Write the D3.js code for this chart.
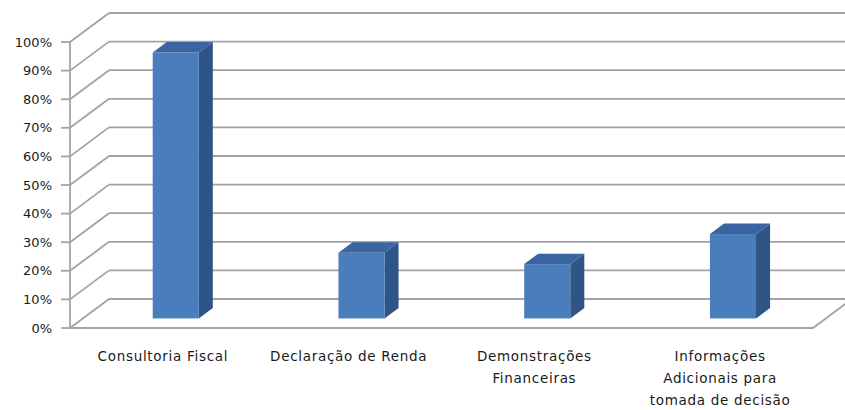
<!DOCTYPE html>
<html>
<head>
  <meta charset="utf-8">
  <script src="https://d3js.org/d3.v7.min.js"></script>
  <style>
    body { margin: 0; background: #fff; font-family: 'DejaVu Sans', sans-serif; }
  </style>
</head>
<body>
  <div id="my_dataviz"></div>
  <script>
    // data
    var categories = [
      ["Consultoria Fiscal"],
      ["Declaração de Renda"],
      ["Demonstrações", "Financeiras"],
      ["Informações", "Adicionais para", "tomada de decisão"]
    ];
    var values = [0.93, 0.23, 0.19, 0.295];
    var yTicks = [0, 0.1, 0.2, 0.3, 0.4, 0.5, 0.6, 0.7, 0.8, 0.9, 1.0];

    var W = 845, H = 410;
    var plot = { left: 70, right: 813, bottom: 328, top: 42 };
    var depth = { x: 39, y: -29 };   // wall depth
    var f1 = 0.33, f2 = 0.69;        // bar front/back position in depth

    var svg = d3.select("#my_dataviz").append("svg")
      .attr("width", W).attr("height", H);
    svg.append("rect").attr("width", W).attr("height", H).attr("fill", "#fff");

    var x = d3.scaleBand()
      .domain(d3.range(categories.length))
      .range([plot.left, plot.right])
      .paddingInner(0.752)
      .paddingOuter(0.376);

    var y = d3.scaleLinear().domain([0, 1]).range([plot.bottom, plot.top]);

    var grid = svg.append("g")
      .attr("stroke", "#a3a3a3")
      .attr("stroke-width", 1.8)
      .attr("fill", "none");

    // back wall gridlines + diagonal side wall lines
    yTicks.forEach(function (t) {
      grid.append("line")
        .attr("x1", plot.left + depth.x).attr("y1", y(t) + depth.y)
        .attr("x2", W + 10).attr("y2", y(t) + depth.y);
      grid.append("line")
        .attr("x1", plot.left).attr("y1", y(t))
        .attr("x2", plot.left + depth.x).attr("y2", y(t) + depth.y);
      // tick
      grid.append("line")
        .attr("x1", plot.left - 9).attr("y1", y(t))
        .attr("x2", plot.left).attr("y2", y(t));
    });
    // vertical axis
    grid.append("line")
      .attr("x1", plot.left).attr("y1", y(1))
      .attr("x2", plot.left).attr("y2", y(0));
    // floor front edge + right edge
    grid.append("polyline")
      .attr("points", [[plot.left, y(0)], [plot.right, y(0)], [plot.right + depth.x, y(0) + depth.y]].join(" "));

    // y labels
    svg.append("g").selectAll("text")
      .data(yTicks)
      .enter().append("text")
      .attr("x", 52)
      .attr("y", function (d) { return y(d); })
      .attr("dy", "0.36em")
      .attr("text-anchor", "end")
      .attr("font-size", 13)
      .attr("fill", "#1a1a1a")
      .text(function (d) { return Math.round(d * 100) + "%"; });

    // bars
    var bw = x.bandwidth();
    var bars = svg.append("g").selectAll("g")
      .data(values)
      .enter().append("g");

    function pt(px, py, f) { return [px + f * depth.x, py + f * depth.y]; }

    bars.append("polygon") // side
      .attr("fill", "#2e5586")
      .attr("points", function (d, i) {
        var x1 = x(i) + bw;
        return [pt(x1, y(d), f1), pt(x1, y(d), f2), pt(x1, y(0), f2), pt(x1, y(0), f1)].join(" ");
      });
    bars.append("polygon") // top
      .attr("fill", "#3a65a0")
      .attr("points", function (d, i) {
        var x0 = x(i), x1 = x(i) + bw;
        return [pt(x0, y(d), f1), pt(x1, y(d), f1), pt(x1, y(d), f2), pt(x0, y(d), f2)].join(" ");
      });
    bars.append("rect") // front
      .attr("fill", "#4a7dbb")
      .attr("x", function (d, i) { return x(i) + f1 * depth.x; })
      .attr("y", function (d) { return y(d) + f1 * depth.y; })
      .attr("width", bw)
      .attr("height", function (d) { return y(0) - y(d); });

    // category labels
    var lab = svg.append("g").selectAll("text")
      .data(categories)
      .enter().append("text")
      .attr("text-anchor", "middle")
      .attr("font-size", 13.5)
      .attr("letter-spacing", 0.7)
      .attr("fill", "#1a1a1a");
    lab.selectAll("tspan")
      .data(function (d, i) { return d.map(function (s) { return { s: s, i: i }; }); })
      .enter().append("tspan")
      .attr("x", function (d) { return x(d.i) + bw / 2; })
      .attr("y", function (d, j) { return 361 + j * 22; })
      .text(function (d) { return d.s; });
  </script>
</body>
</html>
